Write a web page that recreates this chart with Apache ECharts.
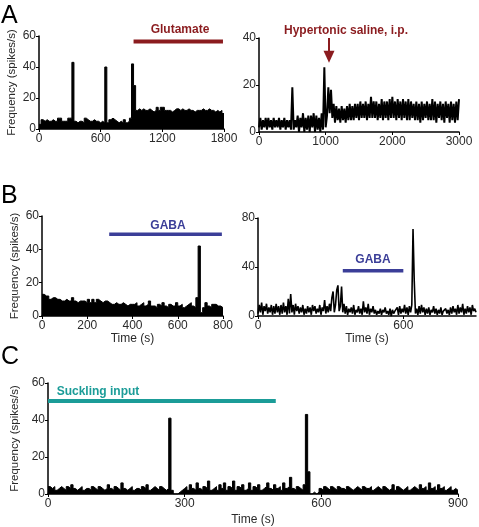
<!DOCTYPE html>
<html>
<head>
<meta charset="utf-8">
<script src="https://cdn.jsdelivr.net/npm/echarts@6/dist/echarts.min.js"></script>
<style>
html,body{margin:0;padding:0;background:#fff;}
#chart{width:479px;height:527px;}
</style>
</head>
<body>
<div id="chart"></div>
<script>
// ---------- data ----------
// Panel A left: glutamate, histogram bins of 20 s (0-1800 s)
const aLeftBin = 20;
const aLeftValues = [
  3,6,5,6,5,5,6,5,5,7,
  7,5,5,5,7,7,43,5,4,5,
  5,4,7,6,5,5,6,5,5,4,
  5,4,40,4,6,7,6,5,4,5,
  4,6,4,5,7,42,28,12,13,12,
  13,12,12,13,12,11,12,14,12,14,
  14,12,12,12,11,12,13,13,12,13,
  12,12,13,12,12,11,12,12,12,13,
  12,12,13,12,12,11,12,11,12,10
];
const glutamateBar = [920, 1790, 56.5];

// Panel A right: hypertonic saline, rate sampled every 20 s (0-3000 s)
const aRightStep = 20;
const aRightValues = [
  2,6,1,5,2,6,1,6,2,5,1,6,2,5,2,6,1,5,2,6,1,5,2,5,1,
  19,
  1,5,2,7,0,6,2,8,0,6,1,7,0,7,2,8,0,7,1,6,0,8,1,
  27.5,
  2,7,19,8,18,6,12,4,11,5,
  10,4,11,5,10,4,11,5,12,5,
  11,5,12,6,12,5,13,6,12,6,
  13,5,12,6,15,6,13,6,13,5,
  12,6,14,5,13,6,13,5,14,6,
  15,6,13,5,14,6,13,5,14,6,
  13,5,14,5,13,6,12,5,13,5,
  12,4,13,5,12,6,13,5,12,5,
  14,5,13,4,12,6,13,5,12,4,
  13,6,12,4,13,5,12,4,13,5,14
];
const salineArrow = [1050, 40, 29.5];

// Panel B left: GABA, histogram bins of 10 s (0-800 s)
const bLeftBin = 10;
const bLeftValues = [
  13,12,12,10,11,11,10,10,9,9,10,9,9,11,9,8,9,9,9,8,
  10,8,10,8,10,9,8,9,9,8,7,7,8,7,7,8,7,6,7,7,
  7,8,6,7,8,6,7,9,6,6,5,7,6,8,6,5,7,6,6,8,
  6,7,5,6,7,8,6,5,11,42,
  2,5,8,6,5,7,7,6,6,5
];
const gabaBarLeft = [297, 795, 49];

// Panel B right: GABA, rate sampled every 5 s (0-900 s)
const bRightStep = 5;
const bRightValues = [
  2,9,3,11,1,8,4,10,2,7,3,9,1,8,2,10,3,8,1,9,
  2,11,3,8,1,14,2,18,3,9,1,10,4,8,2,7,3,9,1,6,
  2,8,3,7,1,9,4,8,2,6,3,9,1,7,4,13,2,8,3,10,
  4,15,20,3,9,21,25,4,8,24,3,10,2,8,1,6,3,7,2,9,
  1,5,3,8,2,6,1,12,3,7,2,10,1,6,3,8,2,5,1,4,
  2,6,1,5,3,7,2,4,1,6,0,5,2,4,3,7,1,8,2,6,
  3,9,2,7,1,8,3,9,71,29,2,6,1,8,2,9,3,7,1,6,
  2,7,1,5,3,8,2,6,1,5,2,7,1,4,3,6,2,5,1,7,
  2,8,3,6,1,9,2,7,3,10,1,6,2,8,3,7,1,9,4,6,3
];
const gabaBarRight = [350, 600, 37];

// Panel C: suckling, histogram bins of 5 s (0-900 s)
const cBin = 5;
const cValues = [
  4,3,4,2,3,4,3,2,4,3,5,3,2,3,4,2,3,3,2,4,
  3,2,4,3,2,3,5,3,2,4,3,2,6,3,2,3,4,2,3,3,
  2,4,3,5,2,3,4,3,2,4,3,2,
  3,41,2,0,0,1,2,3,
  4,2,5,3,2,6,3,2,4,3,7,2,3,4,2,5,3,6,2,4,
  3,7,2,4,3,5,2,3,6,2,4,3,5,2,3,4,6,3,2,5,
  3,4,2,6,3,4,9,3,2,4,3,2,5,43,12,0,1,0,1,3,
  2,4,3,2,4,3,2,4,3,3,2,4,3,2,3,4,3,2,4,3,
  3,4,2,3,4,3,2,4,3,2,3,5,2,4,3,2,3,4,2,3,
  4,3,2,5,3,4,2,6,3,4,2,5,3,4,2,3,4,2,3,2
];
const sucklingBar = [0, 500, 50.3];

// ---------- helpers ----------
function histData(values, bin) {
  const d = values.map((v, i) => [i * bin, v]);
  d.push([values.length * bin, values[values.length - 1]]);
  return d;
}
function traceData(values, step) {
  return values.map((v, i) => [i * step, v]);
}

const FONT = 'Liberation Sans, Arial, sans-serif';
const DARKRED = '#8b1c1f';
const NAVY = '#3b3e98';
const TEAL = '#1b9c98';
const plain = v => String(v);

function xAx(gi, min, max, interval, name, extra) {
  return Object.assign({
    gridIndex: gi, type: 'value', min: min, max: max, interval: interval,
    axisLine: { show: true, onZero: false, lineStyle: { color: '#000', width: 1.5 } },
    axisTick: { show: true, length: 3, lineStyle: { color: '#000', width: 1 } },
    axisLabel: { color: '#2a2a2a', fontSize: 12, fontFamily: FONT, margin: 4, formatter: plain },
    splitLine: { show: false },
    name: name || '', nameLocation: 'middle', nameGap: 20,
    nameTextStyle: { color: '#2a2a2a', fontSize: 12, fontFamily: FONT }
  }, extra || {});
}
function yAx(gi, max, interval, name, gap) {
  return {
    gridIndex: gi, type: 'value', min: 0, max: max, interval: interval,
    axisLine: { show: true, onZero: false, lineStyle: { color: '#000', width: 1.5 } },
    axisTick: { show: true, length: 3, lineStyle: { color: '#000', width: 1 } },
    axisLabel: { color: '#2a2a2a', fontSize: 12, fontFamily: FONT, margin: 3, formatter: plain },
    splitLine: { show: false },
    name: name || '', nameLocation: 'middle', nameGap: gap || 24, nameRotate: 90,
    nameTextStyle: { color: '#2a2a2a', fontSize: 11.5, fontFamily: FONT }
  };
}
function histSeries(gi, values, bin) {
  return {
    type: 'line', xAxisIndex: gi, yAxisIndex: gi, step: 'end',
    data: histData(values, bin), showSymbol: false, symbol: 'none',
    lineStyle: { color: '#000', width: 1 },
    areaStyle: { color: '#000', opacity: 1 },
    silent: true, z: 2
  };
}
function traceSeries(gi, values, step, width) {
  return {
    type: 'line', xAxisIndex: gi, yAxisIndex: gi,
    data: traceData(values, step), showSymbol: false, symbol: 'none',
    lineStyle: { color: '#000', width: width },
    silent: true, z: 2
  };
}
function barSeries(gi, bar, color, width) {
  return {
    type: 'line', xAxisIndex: gi, yAxisIndex: gi,
    data: [[bar[0], bar[2]], [bar[1], bar[2]]], showSymbol: false, symbol: 'none',
    lineStyle: { color: color, width: width, cap: 'butt' },
    silent: true, z: 3
  };
}

const yName = 'Frequency (spikes/s)';
const labelText = (x, y, text, color) => ({
  type: 'text', x: x, y: y,
  style: { text: text, fill: color, font: 'bold 12px ' + FONT, textAlign: 'center', textVerticalAlign: 'middle' }
});
const letter = (x, y, t) => ({
  type: 'text', x: x, y: y,
  style: { text: t, fill: '#000', font: '25px ' + FONT, textAlign: 'left', textVerticalAlign: 'middle' }
});

const option = {
  animation: false,
  backgroundColor: '#fff',
  grid: [
    { left: 39, top: 36, width: 185, height: 93 },
    { left: 259, top: 38, width: 200, height: 94 },
    { left: 42, top: 216, width: 181, height: 100 },
    { left: 258, top: 218, width: 218, height: 98 },
    { left: 48, top: 383, width: 410, height: 111 }
  ],
  xAxis: [
    xAx(0, 0, 1800, 600),
    xAx(1, 0, 3000, 1000),
    xAx(2, 0, 800, 200, 'Time (s)', { nameGap: 17 }),
    xAx(3, 0, 900, 600, 'Time (s)', { nameGap: 17, axisLabel: { color: '#2a2a2a', fontSize: 12, fontFamily: FONT, margin: 4, showMaxLabel: false, formatter: plain } }),
    xAx(4, 0, 900, 300, 'Time (s)', { nameGap: 20 })
  ],
  yAxis: [
    yAx(0, 60, 20, yName, 21),
    yAx(1, 40, 20),
    yAx(2, 60, 20, yName, 21),
    yAx(3, 80, 40),
    yAx(4, 60, 20, yName, 27)
  ],
  series: [
    histSeries(0, aLeftValues, aLeftBin),
    barSeries(0, glutamateBar, DARKRED, 4),
    traceSeries(1, aRightValues, aRightStep, 2),
    // arrow shaft
    {
      type: 'line', xAxisIndex: 1, yAxisIndex: 1,
      data: [[salineArrow[0], salineArrow[1]], [salineArrow[0], salineArrow[2] + 3]],
      showSymbol: false, symbol: 'none',
      lineStyle: { color: DARKRED, width: 2 }, silent: true, z: 4
    },
    // arrow head
    {
      type: 'scatter', xAxisIndex: 1, yAxisIndex: 1,
      data: [[salineArrow[0], salineArrow[2]]],
      symbol: 'triangle', symbolRotate: 180, symbolSize: [11, 12], symbolOffset: [0, '-50%'],
      itemStyle: { color: DARKRED, opacity: 1 }, silent: true, z: 4
    },
    histSeries(2, bLeftValues, bLeftBin),
    barSeries(2, gabaBarLeft, NAVY, 3.5),
    traceSeries(3, bRightValues, bRightStep, 1.6),
    barSeries(3, gabaBarRight, NAVY, 3.5),
    histSeries(4, cValues, cBin),
    barSeries(4, sucklingBar, TEAL, 4)
  ],
  graphic: [
    letter(1, 16, 'A'),
    letter(1, 196, 'B'),
    letter(1, 357, 'C'),
    labelText(180, 30, 'Glutamate', DARKRED),
    labelText(346, 31, 'Hypertonic saline, i.p.', DARKRED),
    labelText(168, 226, 'GABA', NAVY),
    labelText(373, 260, 'GABA', NAVY),
    labelText(98, 392, 'Suckling input', TEAL)
  ]
};

const chart = echarts.init(document.getElementById('chart'), null, { renderer: 'canvas' });
chart.setOption(option);
</script>
</body>
</html>
